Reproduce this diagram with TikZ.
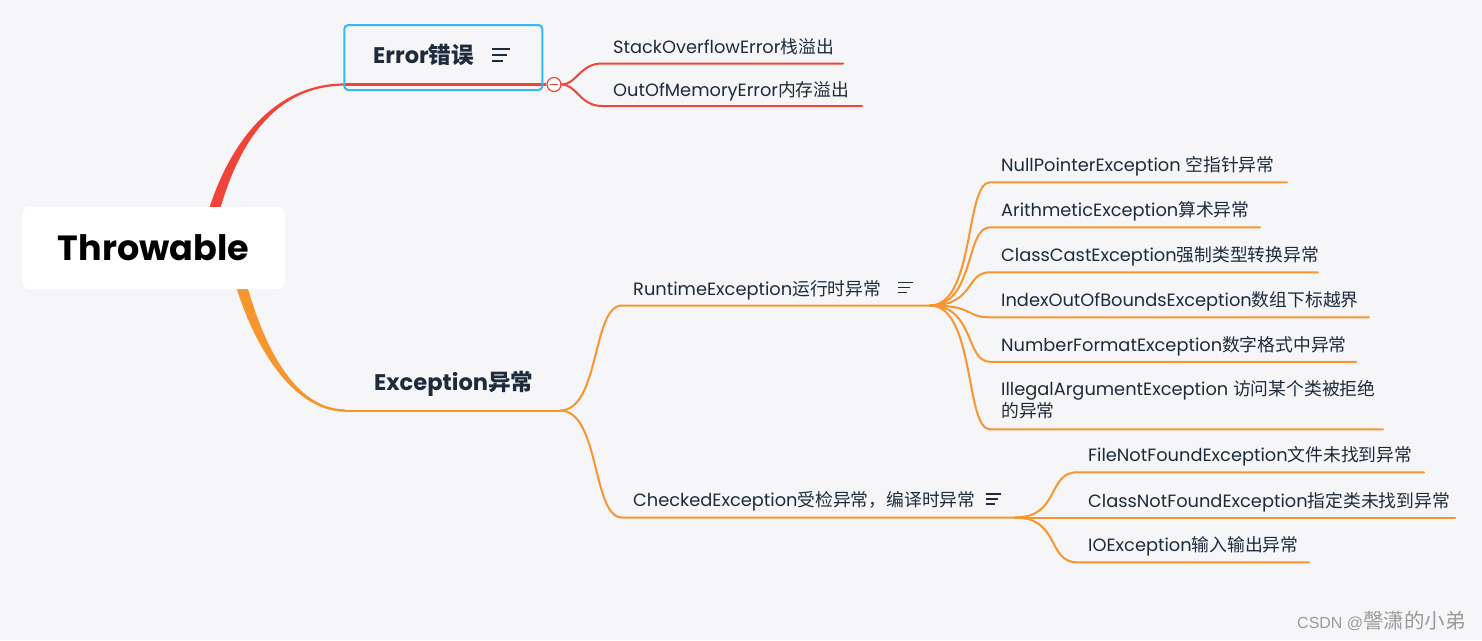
\documentclass[tikz,border=0pt]{standalone}
\usepackage{fontspec}
\setmainfont{Poppins}
\newfontfamily\cjk{Noto Sans CJK SC}
\newfontfamily\wmfont{Liberation Sans}
\usetikzlibrary{calc}
\definecolor{bg}{HTML}{F6F6F9}
\definecolor{redc}{HTML}{F0443A}
\definecolor{orgc}{HTML}{F7952F}
\definecolor{bluc}{HTML}{33B8F8}
\definecolor{txtc}{HTML}{1E2B3C}
\definecolor{wmc}{HTML}{9A9A9A}
\newcommand\zh[1]{{\cjk #1}}
\newcommand\menuicon[4]{% x, y, width, spacing
  \draw[txtc, line width=1.4pt] (#1,#2) -- ++(#3,0)
    (#1,#2+#4) -- ++(0.83*#3,0)
    (#1,#2+2*#4) -- ++(0.62*#3,0);}
\begin{document}
\begin{tikzpicture}[x=1pt,y=-1pt,
  leaf/.style={anchor=base west, inner sep=0pt, text=txtc, font=\fontsize{17.8}{22}\selectfont},
  major/.style={anchor=base west, inner sep=0pt, text=txtc, font=\bfseries\fontsize{22.6}{22}\selectfont},
  obr/.style={draw=orgc, line width=2pt, line cap=round},
  rbr/.style={draw=redc, line width=2pt, line cap=round}]
\fill[bg] (0,0) rectangle (1482,640);
\useasboundingbox (0,0) rectangle (1482,640);

% anchor coordinates
\coordinate (errL) at (345,84.5);
\coordinate (excL) at (345,410.5);

% tapered main branches
\fill[redc] (199,248) .. controls (216.5,159) and (265,83.4) .. (errL |- 0,83.4)
  -- (errL |- 0,85.6) .. controls (265,85.6) and (227.5,161) .. (211,248) -- cycle;
\fill[orgc] (226,248) .. controls (244.5,337) and (290,411.7) .. (excL |- 0,411.7)
  -- (excL |- 0,409.3) .. controls (290,409.3) and (255.5,333) .. (238,248) -- cycle;

% root
\node[fill=white, rounded corners=8pt, minimum width=263pt, minimum height=82pt,
  inner sep=0pt, font=\bfseries\fontsize{35}{35}\selectfont] (root) at (153.5,248) {Throwable};

% Error branch
\node[circle, draw=redc, fill=white, line width=1.2pt, minimum size=14pt, inner sep=0pt] (ec) at (554,84.5) {};
\draw[redc, line width=2.5pt] (errL) -- (ec.west);
\draw[redc, line width=1.2pt] ($(ec.center)+(-4,0)$) -- ($(ec.center)+(4,0)$);
\node[draw=bluc, line width=2pt, rounded corners=4pt, minimum width=198pt, minimum height=65pt, inner sep=0pt] (err) at (443.3,57.5) {};
\node[major] (errt) at (373,63) {Error\zh{错误}};
\menuicon{492}{49}{18}{6}

\coordinate (so-s) at (602,63.5); \coordinate (so-e) at (843,63.5);
\coordinate (om-s) at (602,106); \coordinate (om-e) at (862,106);
\draw[rbr] (ec.east) .. controls +(15,0) and +(-22,0) .. (so-s) -- (so-e);
\draw[rbr] (ec.east) .. controls +(15,0) and +(-22,0) .. (om-s) -- (om-e);
\node[leaf] (so) at (613,53) {StackOverflowError\zh{栈溢出}};
\node[leaf] (om) at (613,96) {OutOfMemoryError\zh{内存溢出}};

% Exception branch
\coordinate (ej) at (560,410.5);
\draw[obr] (excL) -- (ej);
\node[major] (exct) at (374,390.5) {Exception\zh{异常}};

\coordinate (rs) at (622,305.5); \coordinate (rj) at (930,305.5);
\coordinate (cs) at (622,517.5); \coordinate (cj) at (1015,517.5);
\draw[obr] (ej) .. controls +(40,0) and +(-30,0) .. (rs) -- (rj);
\draw[obr] (ej) .. controls +(40,0) and +(-30,0) .. (cs) -- (cj);
\node[leaf] (rt) at (633,295.5) {RuntimeException\zh{运行时异常}};
\menuicon{898}{282.5}{14.5}{5}
\node[leaf] (ct) at (633,506.5) {CheckedException\zh{受检异常，编译时异常}};
\menuicon{986}{494}{14.5}{5}

% Runtime children
\foreach \n/\y/\e in {np/182.3/1287, ar/227.3/1260, cc/272.3/1318, ib/317.3/1369, nf/361.8/1356, ia/429.3/1383}{
  \coordinate (\n-s) at (990,\y); \coordinate (\n-e) at (\e,\y);
  \draw[obr] (rj) .. controls +(45,0) and +(-25,0) .. (\n-s) -- (\n-e);
}
\node[leaf] (np) at (1001,171.5) {NullPointerException \zh{空指针异常}};
\node[leaf] (ar) at (1001,216.5) {ArithmeticException\zh{算术异常}};
\node[leaf] (cc) at (1001,261.5) {ClassCastException\zh{强制类型转换异常}};
\node[leaf] (ib) at (1001,306.5) {IndexOutOfBoundsException\zh{数组下标越界}};
\node[leaf] (nf) at (1001,351.5) {NumberFormatException\zh{数字格式中异常}};
\node[leaf, align=left] (ia) at (1001,417) {IllegalArgumentException \zh{访问某个类被拒绝}\\\zh{的异常}};

% Checked children
\foreach \n/\y/\e in {fn/472.3/1424, cn/517.5/1455, ie/562.3/1309}{
  \coordinate (\n-s) at (1077,\y); \coordinate (\n-e) at (\e,\y);
  \draw[obr] (cj) .. controls +(45,0) and +(-30,0) .. (\n-s) -- (\n-e);
}
\node[leaf] (fn) at (1088,461.5) {FileNotFoundException\zh{文件未找到异常}};
\node[leaf] (cn) at (1088,507) {ClassNotFoundException\zh{指定类未找到异常}};
\node[leaf] (ie) at (1088,551.5) {IOException\zh{输入输出异常}};

% watermark
\node[anchor=base west, inner sep=0pt, text=wmc, font=\wmfont\fontsize{16}{16}\selectfont] (wm) at (1297,628) {CSDN @{\cjk\fontsize{20.5}{20}\selectfont 謦潇的小弟}};
\end{tikzpicture}
\end{document}
